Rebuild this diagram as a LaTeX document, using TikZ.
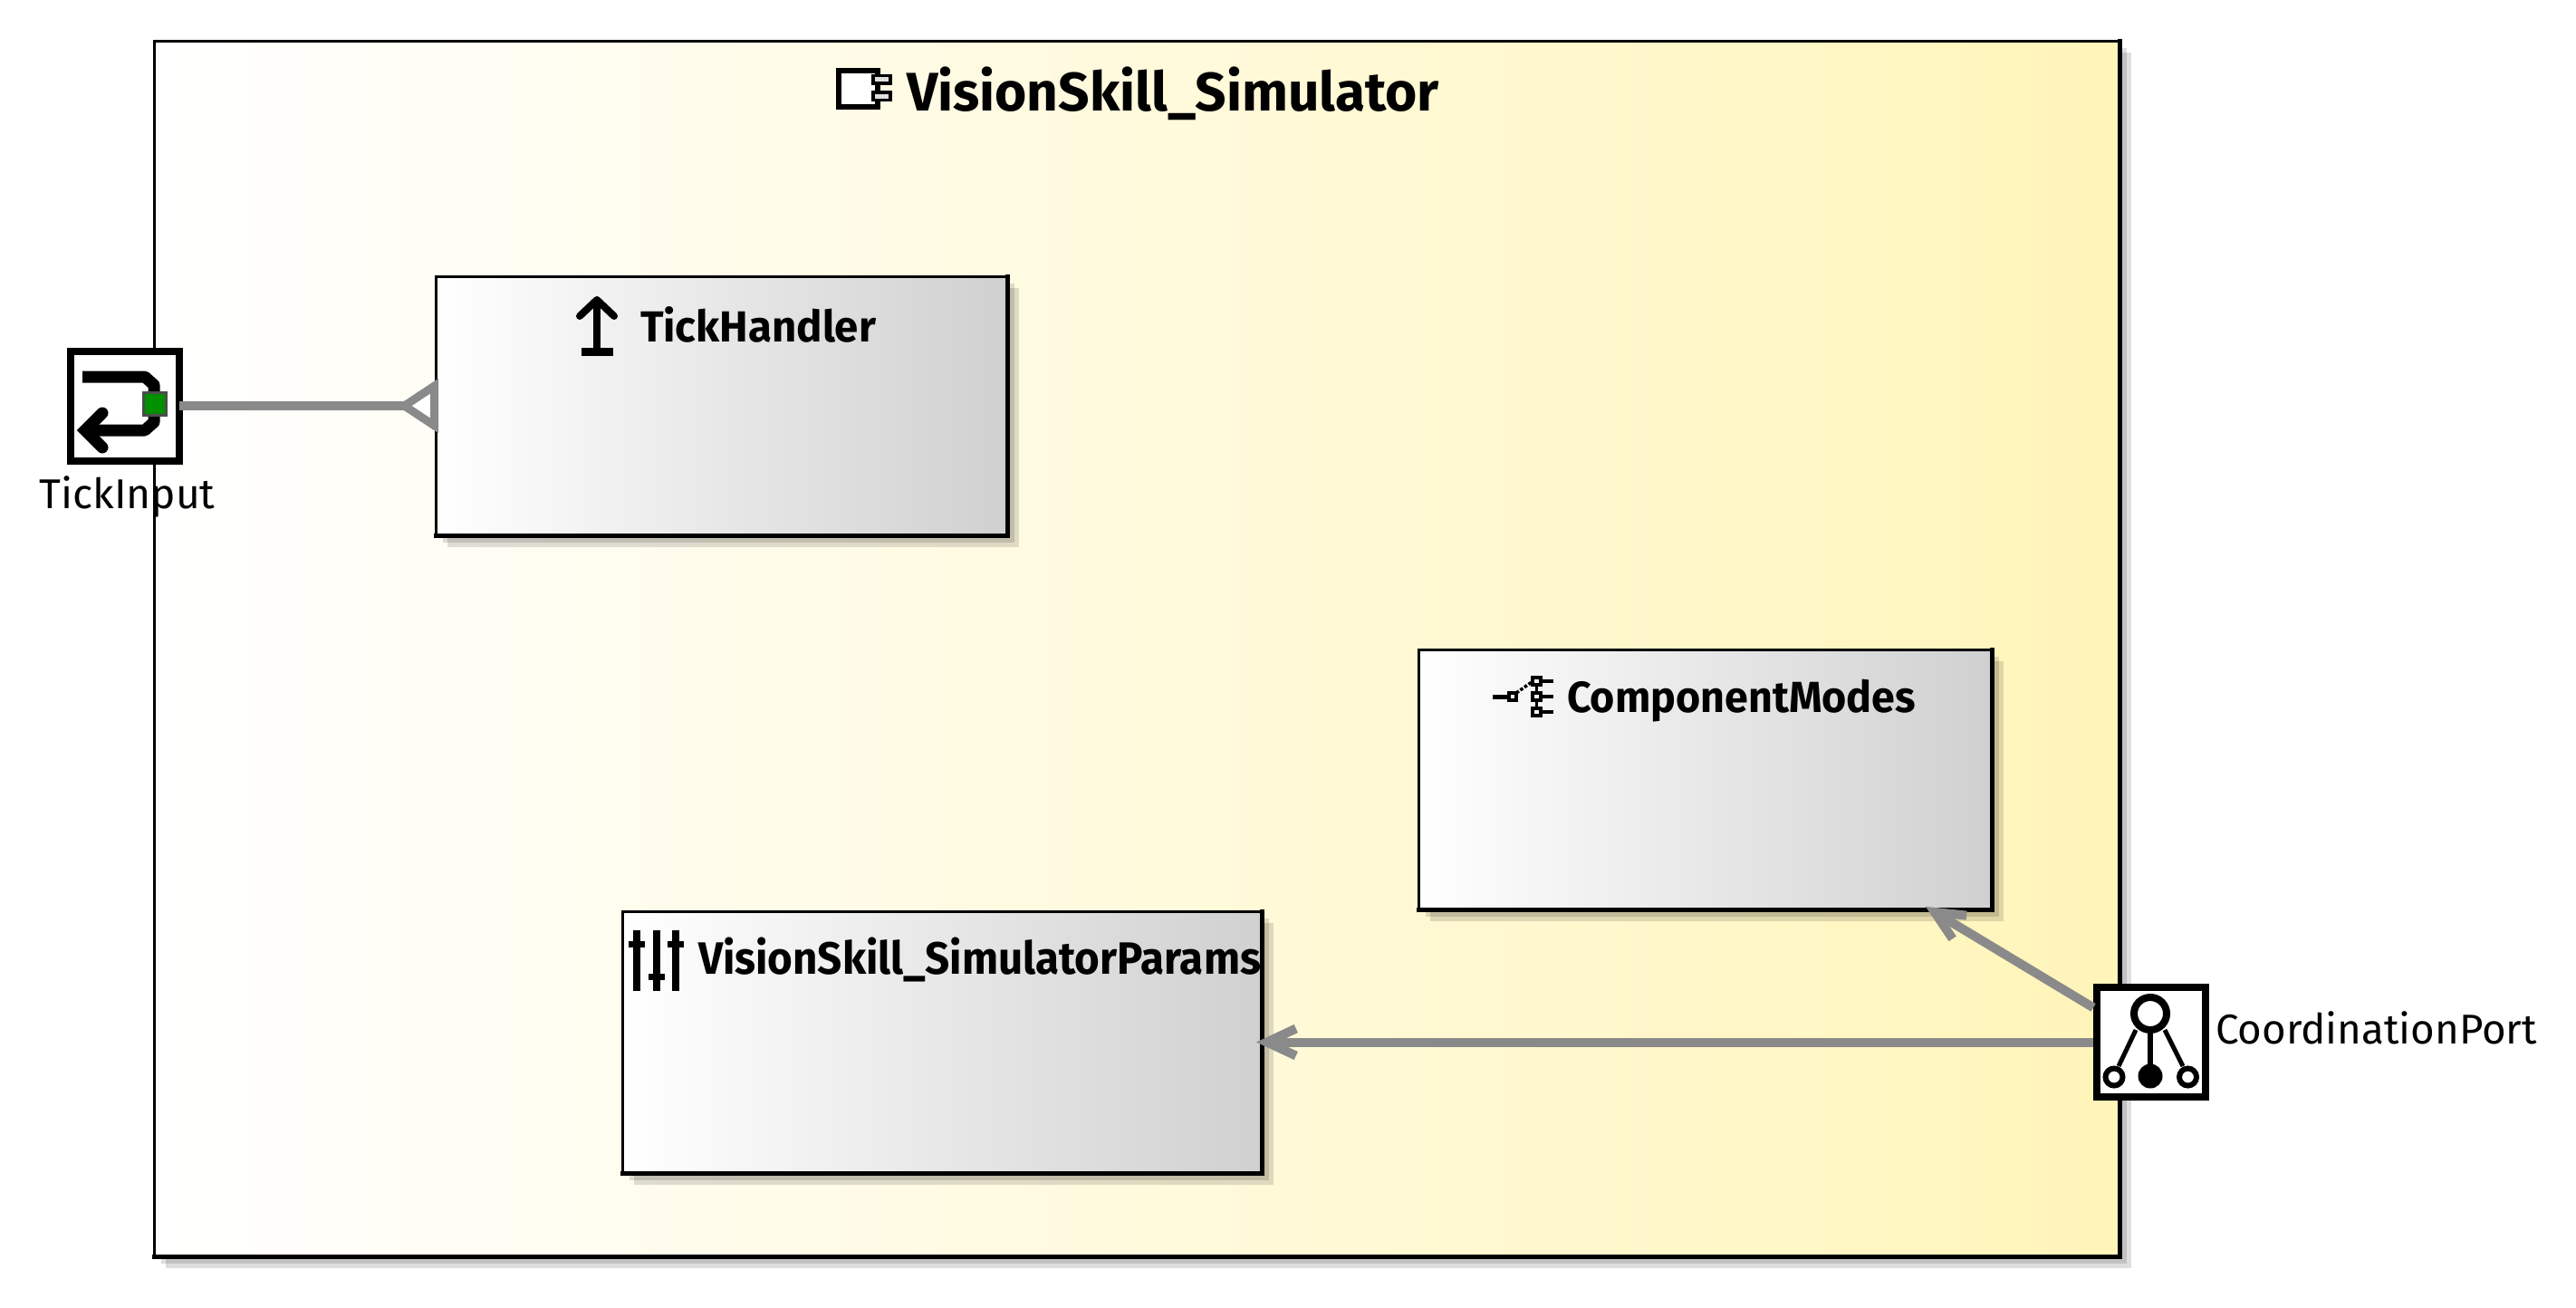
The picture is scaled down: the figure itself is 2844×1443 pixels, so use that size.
\documentclass[tikz,border=0pt]{standalone}
\usepackage{fontspec}
\usepackage{graphicx}
\setmainfont{Fira Sans}
\usetikzlibrary{arrows.meta}
\definecolor{linkgray}{HTML}{8A8A8A}
\definecolor{simyellow}{HTML}{FFF5BA}
\definecolor{boxgray}{HTML}{D0D0D0}
\definecolor{portgreen}{HTML}{009000}
\newcommand{\fitlabel}[3]{\resizebox{#1pt}{\height}{\fontsize{#2}{#2}\selectfont #3}}
% two soft layers of drop shadow behind a box given by its corners
\newcommand{\softshadow}[4]{%
  \fill[black,opacity=.13] (#1+13,#2+13) rectangle (#3+13,#4+13);
  \fill[black,opacity=.13] (#1+8,#2+8) rectangle (#3+8,#4+8);}
\tikzset{
  simbox/.style={rectangle,draw=black,line width=3pt,outer sep=0pt,inner sep=0pt,left color=white,right color=simyellow,anchor=north west},
  partbox/.style={rectangle,draw=black,line width=3pt,outer sep=0pt,inner sep=0pt,left color=white,right color=boxgray,anchor=north west},
  portbox/.style={rectangle,draw=black,fill=white,line width=8pt,outer sep=0pt,inner sep=0pt,minimum width=120pt,minimum height=121pt},
  boxedge/.style={line width=5pt,line cap=rect},
  txt/.style={anchor=base west,inner sep=0pt,outer sep=0pt,text=black},
  linkline/.style={draw=linkgray,line width=10pt},
  reqlink/.style={linkline,shorten >=-6pt,-{Straight Barb[length=32pt,width=30pt,line width=10pt]}},
  provlink/.style={linkline,-{Triangle[open,reversed,length=46pt,width=58pt,line width=9pt,fill=white]}},
  icn/.style={line width=#1,draw=black},
  icn/.default=4pt
}
\begin{document}
\begin{tikzpicture}[x=1pt,y=-1pt]
\useasboundingbox (0,0) rectangle (2844,1443);

% main component
\softshadow{170}{45}{2340}{1387}
\node[simbox,minimum width=2170pt,minimum height=1342pt] (sim) at (170,45) {};
\draw[boxedge] (sim.north east) -- (sim.south east) -- (sim.south west);
\node[txt] (simtitle) at (1001,122) {\fitlabel{588}{60}{\bfseries VisionSkill\_Simulator}};
% component icon
\draw[icn=5.5pt,fill=white] (926,78) rectangle (969,118);
\draw[icn=3.5pt,fill=gray!25] (964,83.5) rectangle (983,92);
\draw[icn=3.5pt,fill=gray!25] (964,102) rectangle (983,110.5);

% TickHandler
\softshadow{481}{305}{1112}{591}
\node[partbox,minimum width=631pt,minimum height=286pt] (tick) at (481,305) {};
\draw[boxedge] (tick.north east) -- (tick.south east) -- (tick.south west);
\node[txt] (ticktxt) at (707,377) {\fitlabel{260}{48}{\bfseries TickHandler}};
\draw[icn=8pt,line join=miter] (659,388) -- (659,332);
\draw[icn=8pt,line join=round,line cap=round] (640,349) -- (659,331) -- (678,349);
\draw[icn=9pt] (642,388) -- (677,388);

% ComponentModes
\softshadow{1566}{717}{2199}{1004}
\node[partbox,minimum width=633pt,minimum height=287pt] (modes) at (1566,717) {};
\draw[boxedge] (modes.north east) -- (modes.south east) -- (modes.south west);
\node[txt] (modestxt) at (1730,786) {\fitlabel{385}{48}{\bfseries ComponentModes}};
\draw[icn=5pt] (1648,769) -- (1665,769);
\draw[icn=4pt] (1666,765) rectangle (1674,773);
\draw[icn=3.5pt,dotted] (1674,765) -- (1691,753);
\foreach \yy in {752,769,786}{
  \draw[icn=4pt] (1692,\yy-4) rectangle (1701,\yy+4);
  \draw[icn=4.5pt] (1701,\yy) -- (1715,\yy);
}
\draw[icn=3pt] (1696,756) -- (1696,765) (1696,773) -- (1696,782);

% VisionSkill_SimulatorParams
\softshadow{687}{1006}{1393}{1295}
\node[partbox,minimum width=706pt,minimum height=289pt] (params) at (687,1006) {};
\draw[boxedge] (params.north east) -- (params.south east) -- (params.south west);
\node[txt] (paramstxt) at (771,1075) {\fitlabel{621}{50}{\bfseries VisionSkill\_SimulatorParams}};
\draw[icn=8pt] (703,1027) -- (703,1094);
\draw[icn=8pt] (725,1027) -- (725,1094);
\draw[icn=8pt] (746,1027) -- (746,1094);
\draw[icn=7pt] (694,1042) -- (712,1042);
\draw[icn=7pt] (716,1078) -- (734,1078);
\draw[icn=7pt] (737,1042) -- (755,1042);

% ports
\node[portbox] (tinput) at (138,448) {};
\node[txt] (tinputtxt) at (43.5,561) {\fitlabel{194}{46}{TickInput}};
\node[portbox] (coord) at (2374.5,1150.5) {};
\node[txt] (coordtxt) at (2446,1152) {\fitlabel{355}{46}{CoordinationPort}};

% TickInput icon
\draw[icn=13pt,line join=round] (91,416) -- (160,416) -- (170,425) -- (170,466) -- (160,475) -- (94,475);
\draw[icn=13pt,line cap=round,line join=miter] (113,456) -- (94,475) -- (113,494);
\node[rectangle,draw=black!70,fill=portgreen,line width=3pt,minimum size=25pt,inner sep=0pt,outer sep=0pt] (tgreen) at (170.5,446) {};

% CoordinationPort icon
\draw[icn=5pt] (2358,1137) -- (2339,1177);
\draw[icn=6pt] (2374,1139) -- (2374,1178);
\draw[icn=5pt] (2390,1137) -- (2410,1177);
\draw[icn=8pt,fill=white] (2374,1119) circle (18);
\draw[icn=6pt,fill=white] (2334,1189) circle (9.5);
\fill[black] (2374,1188) circle (13.5);
\draw[icn=6pt,fill=white] (2415.5,1189) circle (9.5);

% connectors
\draw[provlink,shorten >=-3pt] (tinput) -- (tick);
\draw[reqlink,shorten <=4pt] (coord) -- (params);
\draw[reqlink,shorten <=4pt] (coord.149) -- (modes.-30.5);
\end{tikzpicture}
\end{document}
